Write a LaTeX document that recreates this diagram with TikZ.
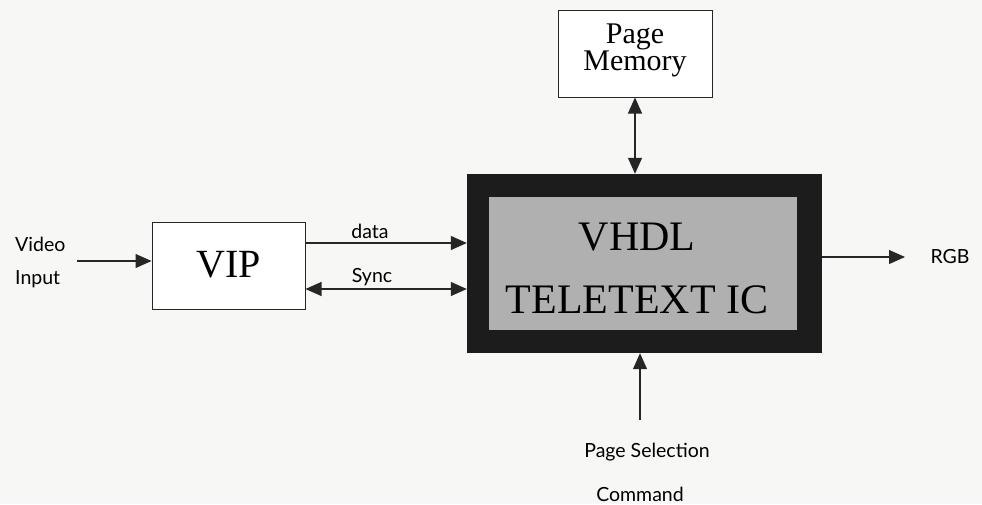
\documentclass[tikz,border=0pt]{standalone}
\usepackage{fontspec}
\setmainfont{Liberation Serif}
\newfontfamily\labfont{Lato}
\usetikzlibrary{arrows.meta}
\definecolor{paper}{HTML}{F7F7F5}
\definecolor{icgray}{HTML}{B0B0B0}
\definecolor{icdark}{HTML}{1C1C1C}
\begin{document}
\begin{tikzpicture}[x=1pt,y=-1pt,
  box/.style={draw=black!85,line width=1pt,fill=white,inner sep=0pt},
  arr/.style={line width=1.1pt,draw=black!85,-{Triangle[length=16pt,width=14pt]}},
  darr/.style={line width=1.1pt,draw=black!85,{Triangle[length=16pt,width=14pt]}-{Triangle[length=16pt,width=14pt]}},
  lab/.style={font=\labfont\fontsize{19.5}{22}\selectfont,inner sep=0pt},
  big/.style={font=\fontsize{42}{46}\selectfont,inner sep=0pt}]
\fill[paper] (0,0) rectangle (982,504);
\useasboundingbox (0,0) rectangle (982,504);
% boxes
\node[box,minimum width=153pt,minimum height=87pt] (vip) at (228.5,265.5) {};
\node[font=\fontsize{40}{44}\selectfont,inner sep=0pt] (viptxt) at (229,265) {VIP};
\node[draw=none,fill=icdark,minimum width=355pt,minimum height=179pt,inner sep=0pt] (ic) at (644.5,263.5) {};
\node[draw=none,fill=icgray,minimum width=308pt,minimum height=133pt,inner sep=0pt] (icin) at (643,263.5) {};
\node[big,align=center,font=\fontsize{42}{63}\selectfont] (ictxt) at (637,268) {VHDL\\TELETEXT IC};
\node[box,minimum width=154pt,minimum height=87pt] (pm) at (635,53.5) {};
\node[align=center,inner sep=0pt,font=\fontsize{30}{25}\selectfont] (pmtxt) at (635,50) {Page\\Memory};
% labels
\node[lab,anchor=west] (video) at (15,244) {Video};
\node[lab,anchor=west] (input) at (15,279) {Input};
\node[lab] (data) at (370,231) {data};
\node[lab] (sync) at (372,277) {Sync};
\node[lab] (rgb) at (950,257) {RGB};
\node[lab] (psel) at (647,452) {Page Selection};
\node[lab] (cmd) at (640,494) {Command};
% coordinates
\coordinate (vin) at (77,261);
\coordinate (dy) at (0,243);
\coordinate (sy) at (0,289);
\coordinate (rgbend) at (905,257);
\coordinate (psend) at (640,420);
\coordinate (pmx) at (635,0);
% connectors
\draw[arr] (vin) -- (vin -| vip.west);
\draw[arr] (vip.east |- dy) -- (ic.west |- dy);
\draw[darr] (vip.east |- sy) -- (ic.west |- sy);
\draw[darr] (pm.south) -- (pmx |- ic.north);
\draw[arr] (ic.east |- rgbend) -- (rgbend);
\draw[arr] (psend) -- (psend |- ic.south);
\end{tikzpicture}
\end{document}
